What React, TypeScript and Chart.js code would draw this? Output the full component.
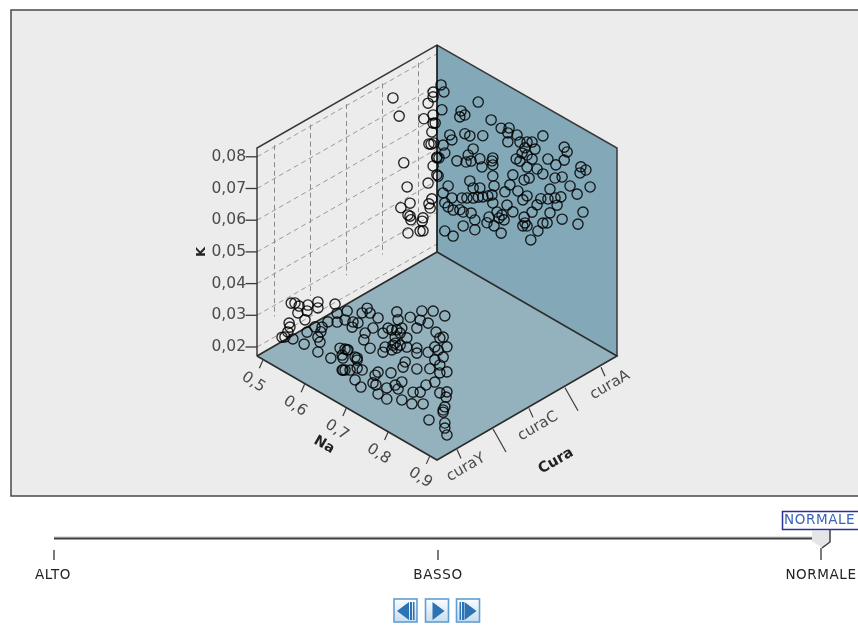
import React, { useEffect, useRef } from "react";
import { Chart, registerables } from "chart.js";

Chart.register(...registerables);

const curaCategories = ["curaY", "curaX", "curaC", "curaB", "curaA"];
const curaLabelled = ["curaY", "curaC", "curaA"];
const naTicks = [0.5, 0.6, 0.7, 0.8, 0.9];
const naTickLabels = ["0,5", "0,6", "0,7", "0,8", "0,9"];
const kTicks = [0.02, 0.03, 0.04, 0.05, 0.06, 0.07, 0.08];
const kTickLabels = ["0,02", "0,03", "0,04", "0,05", "0,06", "0,07", "0,08"];
const sliderStates = ["ALTO", "BASSO", "NORMALE"];

const naY = [
  0.52, 0.529, 0.539, 0.536, 0.56, 0.558, 0.584, 0.584, 0.553, 0.625, 0.515, 0.517, 0.512, 0.498, 0.505, 0.524, 0.551,
  0.558, 0.577, 0.594, 0.591, 0.584, 0.589, 0.584, 0.615, 0.608, 0.63, 0.63, 0.654, 0.649, 0.668, 0.637, 0.649, 0.656,
  0.644, 0.642, 0.649, 0.661, 0.678, 0.678, 0.666, 0.68, 0.69, 0.702, 0.709, 0.728, 0.716, 0.697, 0.694, 0.709, 0.74,
  0.773, 0.776, 0.805, 0.833, 0.86, 0.888, 0.829, 0.848, 0.867, 0.884, 0.876, 0.893, 0.872, 0.884, 0.864, 0.876, 0.893,
  0.876, 0.852, 0.821, 0.793, 0.788, 0.821, 0.821, 0.797, 0.797, 0.773, 0.769, 0.769, 0.773, 0.745, 0.74, 0.761, 0.785,
  0.821, 0.848, 0.864, 0.759, 0.728, 0.721, 0.716, 0.723, 0.673, 0.687, 0.728, 0.749, 0.749, 0.769, 0.785, 0.776, 0.785,
  0.809, 0.812, 0.829, 0.836, 0.843, 0.864, 0.876, 0.893, 0.891, 0.888, 0.884, 0.884, 0.85, 0.888, 0.888, 0.893, 0.654,
  0.642, 0.673, 0.678, 0.69, 0.644, 0.761, 0.781, 0.764, 0.781, 0.752,
];
const kY = [
  0.0328, 0.0335, 0.0333, 0.0309, 0.0352, 0.0332, 0.038, 0.0361, 0.03, 0.0404, 0.0261, 0.025, 0.0231, 0.0204, 0.021,
  0.0218, 0.0222, 0.0265, 0.0296, 0.0308, 0.0291, 0.0269, 0.0257, 0.0222, 0.0226, 0.0335, 0.0351, 0.0379, 0.0404,
  0.0372, 0.038, 0.0274, 0.028, 0.0283, 0.0248, 0.0209, 0.0214, 0.0223, 0.0274, 0.0242, 0.0362, 0.0386, 0.0425, 0.0449,
  0.0439, 0.0438, 0.0397, 0.0367, 0.0343, 0.0328, 0.0399, 0.0491, 0.0468, 0.0498, 0.0539, 0.0559, 0.0565, 0.0507,
  0.0512, 0.0498, 0.0495, 0.0486, 0.0471, 0.0445, 0.0432, 0.0408, 0.0401, 0.0392, 0.0376, 0.0371, 0.0347, 0.0348,
  0.0328, 0.0413, 0.0397, 0.0427, 0.0398, 0.0434, 0.0408, 0.0389, 0.0377, 0.0359, 0.0339, 0.0362, 0.0449, 0.0476, 0.042,
  0.0449, 0.0288, 0.0267, 0.0252, 0.0224, 0.0223, 0.0201, 0.0189, 0.0198, 0.0233, 0.0198, 0.0257, 0.0279, 0.025, 0.0222,
  0.0228, 0.0267, 0.028, 0.0248, 0.0313, 0.0338, 0.0313, 0.0329, 0.0311, 0.0278, 0.0265, 0.0258, 0.0208, 0.0227, 0.0211,
  0.0193, 0.0281, 0.0256, 0.0273, 0.0267, 0.0245, 0.021, 0.0425, 0.0392, 0.0379, 0.043, 0.0424,
];

const naB = [0.505, 0.52, 0.579, 0.531, 0.539, 0.524, 0.546, 0.546, 0.548, 0.577, 0.575, 0.541, 0.57, 0.577, 0.541];
const kB = [0.0769, 0.0723, 0.0759, 0.0584, 0.0514, 0.0437, 0.0468, 0.0427, 0.0417, 0.0445, 0.0433, 0.037, 0.0398, 0.0404, 0.0427];

const naA = [
  0.623, 0.582, 0.591, 0.579, 0.654, 0.678, 0.697, 0.716, 0.694, 0.694, 0.778, 0.634, 0.555, 0.591, 0.603, 0.56, 0.539,
  0.543, 0.611, 0.599, 0.572, 0.594, 0.606, 0.627, 0.658, 0.656, 0.632, 0.658, 0.529, 0.524, 0.723, 0.74, 0.752, 0.759,
  0.735, 0.728, 0.74, 0.714, 0.723, 0.752, 0.764, 0.74, 0.79, 0.829, 0.836, 0.829, 0.809, 0.778, 0.706, 0.658, 0.603,
  0.527, 0.551, 0.611, 0.627, 0.661, 0.699, 0.687, 0.718, 0.745, 0.733, 0.807, 0.824, 0.843, 0.795, 0.86, 0.891, 0.869,
  0.881, 0.867, 0.539, 0.56, 0.584, 0.596, 0.611, 0.623, 0.634, 0.646, 0.656, 0.658, 0.692, 0.73, 0.74, 0.764, 0.773,
  0.79, 0.807, 0.821, 0.812, 0.795, 0.824, 0.874, 0.862, 0.543, 0.551, 0.563, 0.579, 0.587, 0.606, 0.615, 0.587, 0.615,
  0.543, 0.563, 0.649, 0.644, 0.661, 0.678, 0.668, 0.68, 0.685, 0.673, 0.706, 0.733, 0.735, 0.74, 0.73, 0.766, 0.778,
  0.788, 0.752, 0.749, 0.536, 0.541, 0.52, 0.534, 0.515, 0.515, 0.503, 0.515, 0.512, 0.51, 0.517, 0.524, 0.515, 0.524,
  0.503, 0.512, 0.508, 0.505, 0.515, 0.505,
];
const kA = [
  0.078, 0.0721, 0.0715, 0.07, 0.0747, 0.0739, 0.0754, 0.0746, 0.0736, 0.0708, 0.079, 0.0682, 0.0625, 0.0656, 0.0658,
  0.0613, 0.0581, 0.0559, 0.0623, 0.0595, 0.0556, 0.0569, 0.0581, 0.0604, 0.063, 0.0619, 0.0582, 0.0608, 0.0533, 0.0529,
  0.0729, 0.0742, 0.0751, 0.0734, 0.072, 0.0698, 0.0701, 0.0669, 0.0669, 0.0697, 0.0675, 0.0663, 0.0726, 0.0793, 0.0783,
  0.0752, 0.0722, 0.067, 0.0613, 0.0573, 0.0516, 0.0474, 0.0461, 0.05, 0.0512, 0.0544, 0.0576, 0.0545, 0.0571, 0.0632,
  0.0617, 0.0679, 0.0695, 0.0681, 0.0635, 0.0668, 0.0714, 0.0761, 0.076, 0.074, 0.043, 0.043, 0.0448, 0.0457, 0.0468,
  0.048, 0.0489, 0.0501, 0.0512, 0.0488, 0.0507, 0.0552, 0.0572, 0.0562, 0.0588, 0.06, 0.0616, 0.063, 0.0597, 0.056,
  0.0562, 0.0622, 0.0575, 0.0402, 0.0395, 0.0394, 0.0407, 0.0406, 0.0417, 0.0402, 0.0362, 0.0371, 0.0313, 0.0312, 0.0437,
  0.0415, 0.0418, 0.0408, 0.0467, 0.0467, 0.0455, 0.0452, 0.0496, 0.05, 0.0483, 0.0477, 0.047, 0.0481, 0.0515, 0.0523,
  0.053, 0.044, 0.069, 0.075, 0.0636, 0.0767, 0.073, 0.0715, 0.0686, 0.0658, 0.0602, 0.0562, 0.0571, 0.0532, 0.0497,
  0.0476, 0.0434, 0.0391, 0.0359, 0.037, 0.0632, 0.0559,
];

const W = 858;
const H = 625;
const NA_MIN = 0.486;
const K_MIN = 0.01716;
const NA_PX = 417.5;
const K_PX = 3170;
const SLOPE = 0.572;
const LEFT_X = 257;
const FLOOR_Y = 356;
const curaOffset = (name: string) => 20 + 36 * curaCategories.indexOf(name);

function project(na: number, k: number, co: number) {
  const h = (na - NA_MIN) * NA_PX;
  return { x: LEFT_X + h + co, y: FLOOR_Y + SLOPE * (h - co) - (k - K_MIN) * K_PX };
}
const zip = (nas: number[], ks: number[], cura: string) =>
  nas.map((na, i) => project(na, ks[i], curaOffset(cura)));

const scene = {
  id: "scene",
  beforeDatasetsDraw(chart: any) {
    const c: CanvasRenderingContext2D = chart.ctx;
    const sx = (v: number) => chart.scales.x.getPixelForValue(v);
    const sy = (v: number) => chart.scales.y.getPixelForValue(v);
    const poly = (pts: number[][], fill?: string | CanvasGradient, stroke?: string, lw = 1) => {
      c.beginPath();
      pts.forEach((p, i) => (i ? c.lineTo(sx(p[0]), sy(p[1])) : c.moveTo(sx(p[0]), sy(p[1]))));
      if (fill) {
        c.closePath();
        c.fillStyle = fill;
        c.fill();
      }
      if (stroke) {
        c.strokeStyle = stroke;
        c.lineWidth = lw;
        c.stroke();
      }
    };
    const text = (s: string, x: number, y: number, font: string, color: string, angle = 0, align: CanvasTextAlign = "center") => {
      c.save();
      c.translate(sx(x), sy(y));
      c.rotate((angle * Math.PI) / 180);
      c.font = font;
      c.fillStyle = color;
      c.textAlign = align;
      c.textBaseline = "middle";
      c.fillText(s, 0, 0);
      c.restore();
    };

    c.save();
    c.fillStyle = "#ffffff";
    c.fillRect(0, 0, W, H);
    c.fillStyle = "#ececec";
    c.fillRect(11, 10, W, 486);
    c.strokeStyle = "#4a4a4a";
    c.lineWidth = 1.5;
    c.strokeRect(11, 10, W + 20, 486);

    // walls
    poly([[437, 45], [617, 148], [617, 356], [437, 252]], "#83a9b8");
    poly([[257, 356], [437, 252], [617, 356], [437, 460]], "#94b2be");

    // dashed grid on the left wall
    c.save();
    c.setLineDash([5, 3.5]);
    kTicks.forEach((k) => {
      const a = project(NA_MIN, k, 0);
      poly([[a.x, a.y], [a.x + 180, a.y - 180 * SLOPE]], undefined, "#9a9a9a", 1);
    });
    curaCategories.forEach((name) => {
      const co = curaOffset(name) - 2.5;
      const a = project(NA_MIN, 0.0805, co);
      const b = project(NA_MIN, 0.0265, co);
      poly([[a.x, a.y], [b.x, b.y]], undefined, "#8a8a8a", 1);
    });
    c.restore();

    // edges
    const edge = "#2c2c2c";
    poly([[257, 356], [257, 148], [437, 45], [617, 148], [617, 356]], undefined, "#3a3a3a", 1.5);
    poly([[437, 45], [437, 252]], undefined, "#111111", 1.6);
    poly([[257, 356], [437, 252], [617, 356], [437, 460], [257, 356]], undefined, edge, 1.6);

    // K axis
    const tickColor = "#4a4a4a";
    kTicks.forEach((k, i) => {
      const p = project(NA_MIN, k, 0);
      poly([[p.x - 11.5, p.y], [p.x, p.y]], undefined, "#3a3a3a", 1.3);
      text(kTickLabels[i], 246, p.y, "15.5px 'DejaVu Sans'", tickColor, 0, "right");
    });
    text("K", 202, 252, "bold 13px 'DejaVu Sans'", "#222222", -90);

    // Na axis
    naTicks.forEach((na, i) => {
      const p = project(na, K_MIN, 0);
      poly([[p.x, p.y + 1], [p.x - 3.5, p.y + 9]], undefined, "#3a3a3a", 1.2);
      text(naTickLabels[i], p.x - 9.5, p.y + 23, "15.5px 'DejaVu Sans'", tickColor, 33);
    });
    text("Na", 324, 445, "bold 14px 'DejaVu Sans'", "#222222", 30);

    // Cura axis
    curaCategories.forEach((name) => {
      const co = curaOffset(name);
      const ex = 437 + co;
      const ey = 460 - co * SLOPE;
      const labelled = curaLabelled.includes(name);
      poly(
        [[ex, ey + 1], labelled ? [ex + 4, ey + 10] : [ex + 13, ey + 24]],
        undefined,
        "#3a3a3a",
        1.2
      );
      if (labelled) text(name, ex + 9, ey + 19, "15px 'DejaVu Sans'", tickColor, -30);
    });
    text("Cura", 556, 461, "bold 14.5px 'DejaVu Sans'", "#222222", -30);

    // slider
    poly([[54, 537], [813, 537]], undefined, "#c4c4c4", 1);
    poly([[54, 538.5], [813, 538.5]], undefined, "#3f3f3f", 2);
    const sliderX = [54, 438, 821];
    sliderStates.forEach((s, i) => {
      poly([[sliderX[i], i === 2 ? 548 : 550], [sliderX[i], 560]], undefined, "#333333", 1.3);
      c.save();
      (c as any).letterSpacing = "0.6px";
      text(s, i === 0 ? 53 : sliderX[i], 575, "13.5px 'DejaVu Sans'", "#222222");
      c.restore();
    });
    poly([[812, 531], [830, 531], [830, 542], [822, 548], [812, 541]], "#e4e4e9");
    poly([[830, 530], [830, 542], [822, 548]], undefined, "#333333", 1.4);
    c.fillStyle = "#ffffff";
    c.fillRect(782, 511, 80, 19);
    c.strokeStyle = "#2b2f9c";
    c.lineWidth = 1.5;
    c.strokeRect(782.5, 511.5, 90, 18);
    c.save();
    (c as any).letterSpacing = "0.6px";
    text("NORMALE", 784, 520.5, "13.5px 'DejaVu Sans'", "#3a62b5", 0, "left");
    c.restore();

    // player buttons
    const button = (x: number, glyph: number[][], bars: number[][]) => {
      const g = c.createLinearGradient(0, 599, 0, 622);
      g.addColorStop(0, "#fbfdff");
      g.addColorStop(1, "#c9dcee");
      c.fillStyle = g;
      c.fillRect(x, 599, 23, 23);
      c.strokeStyle = "#5f9fd2";
      c.lineWidth = 1.6;
      c.strokeRect(x, 599, 23, 23);
      poly(glyph.map((p) => [x + p[0], p[1]]), "#2c73b4");
      bars.forEach((b) => {
        c.fillStyle = "#2c73b4";
        c.fillRect(x + b[0], 602, b[1], 18);
      });
    };
    button(394, [[3, 611], [15, 602], [15, 620]], [[16, 2], [19, 1.5]]);
    button(425.5, [[7, 602], [19, 611], [7, 620]], []);
    button(456.5, [[8, 602], [20, 611], [8, 620]], [[3, 1.5], [5.5, 2]]);
    c.restore();
  },
};

const circleStyle = {
  showLine: false,
  pointStyle: "circle",
  pointRadius: 5.1,
  pointBorderWidth: 1.35,
  pointBorderColor: "rgba(0,0,0,0.85)",
  pointBackgroundColor: "rgba(0,0,0,0)",
};

export default function App() {
  const ref = useRef<HTMLCanvasElement>(null);
  useEffect(() => {
    if (!ref.current) return;
    const chart = new Chart(ref.current, {
      type: "scatter",
      data: {
        datasets: [
          { label: "curaY", data: zip(naY, kY, "curaY"), ...circleStyle },
          { label: "curaB", data: zip(naB, kB, "curaB"), ...circleStyle },
          { label: "curaA", data: zip(naA, kA, "curaA"), ...circleStyle },
        ],
      } as any,
      options: {
        animation: false,
        responsive: false,
        layout: { padding: 0, autoPadding: false },
        plugins: { legend: { display: false }, tooltip: { enabled: false } },
        scales: {
          x: { type: "linear", min: 0, max: W, display: false },
          y: { type: "linear", min: 0, max: H, reverse: true, display: false },
        },
      },
      plugins: [scene],
    } as any);
    return () => chart.destroy();
  }, []);
  return (
    <canvas
      ref={ref}
      width={W}
      height={H}
      style={{ position: "absolute", left: 0, top: 0, display: "block", width: W, height: H }}
    />
  );
}
